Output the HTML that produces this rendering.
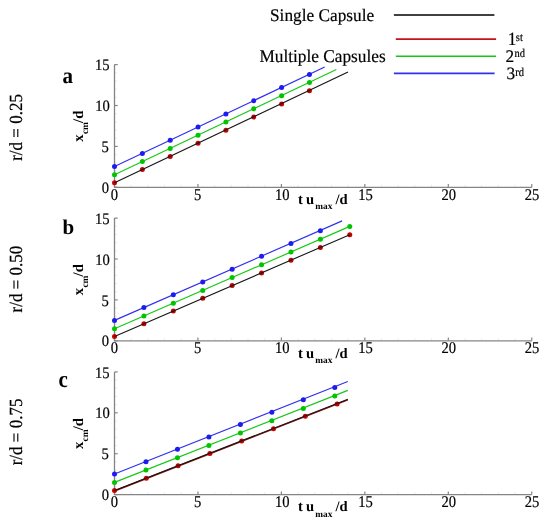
<!DOCTYPE html>
<html><head><meta charset="utf-8"><style>
html,body{margin:0;padding:0;background:#fff;width:550px;height:522px;overflow:hidden}
svg{display:block;font-family:"Liberation Serif",serif;text-rendering:geometricPrecision;will-change:transform;filter:blur(0.3px)}
</style></head><body>
<svg width="550" height="522" viewBox="0 0 550 522">
<rect width="550" height="522" fill="#fff"/>
<line x1="114.5" y1="179.12" x2="117.0" y2="179.12" stroke="#ebebeb" stroke-width="1"/>
<line x1="114.5" y1="170.94" x2="117.0" y2="170.94" stroke="#ebebeb" stroke-width="1"/>
<line x1="114.5" y1="162.76" x2="117.0" y2="162.76" stroke="#ebebeb" stroke-width="1"/>
<line x1="114.5" y1="154.58" x2="117.0" y2="154.58" stroke="#ebebeb" stroke-width="1"/>
<line x1="114.5" y1="138.22" x2="117.0" y2="138.22" stroke="#ebebeb" stroke-width="1"/>
<line x1="114.5" y1="130.04" x2="117.0" y2="130.04" stroke="#ebebeb" stroke-width="1"/>
<line x1="114.5" y1="121.86" x2="117.0" y2="121.86" stroke="#ebebeb" stroke-width="1"/>
<line x1="114.5" y1="113.68" x2="117.0" y2="113.68" stroke="#ebebeb" stroke-width="1"/>
<line x1="114.5" y1="97.32" x2="117.0" y2="97.32" stroke="#ebebeb" stroke-width="1"/>
<line x1="114.5" y1="89.14" x2="117.0" y2="89.14" stroke="#ebebeb" stroke-width="1"/>
<line x1="114.5" y1="80.96" x2="117.0" y2="80.96" stroke="#ebebeb" stroke-width="1"/>
<line x1="114.5" y1="72.78" x2="117.0" y2="72.78" stroke="#ebebeb" stroke-width="1"/>
<line x1="131.19" y1="187.3" x2="131.19" y2="184.8" stroke="#ebebeb" stroke-width="1"/>
<line x1="147.88" y1="187.3" x2="147.88" y2="184.8" stroke="#ebebeb" stroke-width="1"/>
<line x1="164.57" y1="187.3" x2="164.57" y2="184.8" stroke="#ebebeb" stroke-width="1"/>
<line x1="181.26" y1="187.3" x2="181.26" y2="184.8" stroke="#ebebeb" stroke-width="1"/>
<line x1="214.64" y1="187.3" x2="214.64" y2="184.8" stroke="#ebebeb" stroke-width="1"/>
<line x1="231.33" y1="187.3" x2="231.33" y2="184.8" stroke="#ebebeb" stroke-width="1"/>
<line x1="248.02" y1="187.3" x2="248.02" y2="184.8" stroke="#ebebeb" stroke-width="1"/>
<line x1="264.71" y1="187.3" x2="264.71" y2="184.8" stroke="#ebebeb" stroke-width="1"/>
<line x1="298.09" y1="187.3" x2="298.09" y2="184.8" stroke="#ebebeb" stroke-width="1"/>
<line x1="314.78" y1="187.3" x2="314.78" y2="184.8" stroke="#ebebeb" stroke-width="1"/>
<line x1="331.47" y1="187.3" x2="331.47" y2="184.8" stroke="#ebebeb" stroke-width="1"/>
<line x1="348.16" y1="187.3" x2="348.16" y2="184.8" stroke="#ebebeb" stroke-width="1"/>
<line x1="381.54" y1="187.3" x2="381.54" y2="184.8" stroke="#ebebeb" stroke-width="1"/>
<line x1="398.23" y1="187.3" x2="398.23" y2="184.8" stroke="#ebebeb" stroke-width="1"/>
<line x1="414.92" y1="187.3" x2="414.92" y2="184.8" stroke="#ebebeb" stroke-width="1"/>
<line x1="431.61" y1="187.3" x2="431.61" y2="184.8" stroke="#ebebeb" stroke-width="1"/>
<line x1="464.99" y1="187.3" x2="464.99" y2="184.8" stroke="#ebebeb" stroke-width="1"/>
<line x1="481.68" y1="187.3" x2="481.68" y2="184.8" stroke="#ebebeb" stroke-width="1"/>
<line x1="498.37" y1="187.3" x2="498.37" y2="184.8" stroke="#ebebeb" stroke-width="1"/>
<line x1="515.06" y1="187.3" x2="515.06" y2="184.8" stroke="#ebebeb" stroke-width="1"/>
<path d="M114.5 64.60V187.3H531.75" fill="none" stroke="#858585" stroke-width="1.3"/>
<line x1="114.5" y1="187.30" x2="117.7" y2="187.30" stroke="#858585" stroke-width="1.2"/>
<text transform="translate(109.00,192.90) scale(1,1.09)" font-size="14.6" stroke="#000" stroke-width="0.18" text-anchor="end">0</text>
<line x1="114.5" y1="146.40" x2="117.7" y2="146.40" stroke="#858585" stroke-width="1.2"/>
<text transform="translate(108.70,152.00) scale(1,1.09)" font-size="14.6" stroke="#000" stroke-width="0.18" text-anchor="end">5</text>
<line x1="114.5" y1="105.50" x2="117.7" y2="105.50" stroke="#858585" stroke-width="1.2"/>
<text transform="translate(109.90,111.10) scale(1,1.09)" font-size="14.6" stroke="#000" stroke-width="0.18" text-anchor="end">10</text>
<line x1="114.5" y1="64.60" x2="117.7" y2="64.60" stroke="#858585" stroke-width="1.2"/>
<text transform="translate(109.50,70.20) scale(1,1.09)" font-size="14.6" stroke="#000" stroke-width="0.18" text-anchor="end">15</text>
<line x1="114.50" y1="187.3" x2="114.50" y2="184.10000000000002" stroke="#858585" stroke-width="1.2"/>
<text transform="translate(114.50,199.60) scale(1,1.12)" font-size="14.6" stroke="#000" stroke-width="0.18" text-anchor="middle">0</text>
<line x1="197.95" y1="187.3" x2="197.95" y2="184.10000000000002" stroke="#858585" stroke-width="1.2"/>
<text transform="translate(197.75,199.60) scale(1,1.12)" font-size="14.6" stroke="#000" stroke-width="0.18" text-anchor="middle">5</text>
<line x1="281.40" y1="187.3" x2="281.40" y2="184.10000000000002" stroke="#858585" stroke-width="1.2"/>
<text transform="translate(282.20,199.60) scale(1,1.12)" font-size="14.6" stroke="#000" stroke-width="0.18" text-anchor="middle">10</text>
<line x1="364.85" y1="187.3" x2="364.85" y2="184.10000000000002" stroke="#858585" stroke-width="1.2"/>
<text transform="translate(365.45,199.60) scale(1,1.12)" font-size="14.6" stroke="#000" stroke-width="0.18" text-anchor="middle">15</text>
<line x1="448.30" y1="187.3" x2="448.30" y2="184.10000000000002" stroke="#858585" stroke-width="1.2"/>
<text transform="translate(448.70,199.60) scale(1,1.12)" font-size="14.6" stroke="#000" stroke-width="0.18" text-anchor="middle">20</text>
<line x1="531.75" y1="187.3" x2="531.75" y2="184.10000000000002" stroke="#858585" stroke-width="1.2"/>
<text transform="translate(531.95,199.60) scale(1,1.12)" font-size="14.6" stroke="#000" stroke-width="0.18" text-anchor="middle">25</text>
<text transform="translate(297.90,204.00)" font-size="14.6" font-weight="bold">t</text>
<text transform="translate(306.10,204.00)" font-size="14.6" font-weight="bold">u</text>
<text transform="translate(315.30,209.30)" font-size="9.3" font-weight="bold">max</text>
<text transform="translate(335.40,204.00)" font-size="14.6" font-weight="bold">/d</text>
<text transform="translate(83.00,141.80) rotate(-90)" font-size="14.6" font-weight="bold">x</text>
<text transform="translate(87.90,134.10) rotate(-90)" font-size="9.4" font-weight="bold">cm</text>
<text transform="translate(83.00,122.90) rotate(-90)" font-size="14.6" font-weight="bold">/d</text>
<text transform="translate(62.60,82.90) scale(1,1.07)" font-size="21" font-weight="bold">a</text>
<text transform="translate(22.00,160.80) rotate(-90) scale(1,1.09)" font-size="17.0" stroke="#000" stroke-width="0.18">r/d = 0.25</text>
<line x1="114.5" y1="332.62" x2="117.0" y2="332.62" stroke="#ebebeb" stroke-width="1"/>
<line x1="114.5" y1="324.44" x2="117.0" y2="324.44" stroke="#ebebeb" stroke-width="1"/>
<line x1="114.5" y1="316.26" x2="117.0" y2="316.26" stroke="#ebebeb" stroke-width="1"/>
<line x1="114.5" y1="308.08" x2="117.0" y2="308.08" stroke="#ebebeb" stroke-width="1"/>
<line x1="114.5" y1="291.72" x2="117.0" y2="291.72" stroke="#ebebeb" stroke-width="1"/>
<line x1="114.5" y1="283.54" x2="117.0" y2="283.54" stroke="#ebebeb" stroke-width="1"/>
<line x1="114.5" y1="275.36" x2="117.0" y2="275.36" stroke="#ebebeb" stroke-width="1"/>
<line x1="114.5" y1="267.18" x2="117.0" y2="267.18" stroke="#ebebeb" stroke-width="1"/>
<line x1="114.5" y1="250.82" x2="117.0" y2="250.82" stroke="#ebebeb" stroke-width="1"/>
<line x1="114.5" y1="242.64" x2="117.0" y2="242.64" stroke="#ebebeb" stroke-width="1"/>
<line x1="114.5" y1="234.46" x2="117.0" y2="234.46" stroke="#ebebeb" stroke-width="1"/>
<line x1="114.5" y1="226.28" x2="117.0" y2="226.28" stroke="#ebebeb" stroke-width="1"/>
<line x1="131.19" y1="340.8" x2="131.19" y2="338.3" stroke="#ebebeb" stroke-width="1"/>
<line x1="147.88" y1="340.8" x2="147.88" y2="338.3" stroke="#ebebeb" stroke-width="1"/>
<line x1="164.57" y1="340.8" x2="164.57" y2="338.3" stroke="#ebebeb" stroke-width="1"/>
<line x1="181.26" y1="340.8" x2="181.26" y2="338.3" stroke="#ebebeb" stroke-width="1"/>
<line x1="214.64" y1="340.8" x2="214.64" y2="338.3" stroke="#ebebeb" stroke-width="1"/>
<line x1="231.33" y1="340.8" x2="231.33" y2="338.3" stroke="#ebebeb" stroke-width="1"/>
<line x1="248.02" y1="340.8" x2="248.02" y2="338.3" stroke="#ebebeb" stroke-width="1"/>
<line x1="264.71" y1="340.8" x2="264.71" y2="338.3" stroke="#ebebeb" stroke-width="1"/>
<line x1="298.09" y1="340.8" x2="298.09" y2="338.3" stroke="#ebebeb" stroke-width="1"/>
<line x1="314.78" y1="340.8" x2="314.78" y2="338.3" stroke="#ebebeb" stroke-width="1"/>
<line x1="331.47" y1="340.8" x2="331.47" y2="338.3" stroke="#ebebeb" stroke-width="1"/>
<line x1="348.16" y1="340.8" x2="348.16" y2="338.3" stroke="#ebebeb" stroke-width="1"/>
<line x1="381.54" y1="340.8" x2="381.54" y2="338.3" stroke="#ebebeb" stroke-width="1"/>
<line x1="398.23" y1="340.8" x2="398.23" y2="338.3" stroke="#ebebeb" stroke-width="1"/>
<line x1="414.92" y1="340.8" x2="414.92" y2="338.3" stroke="#ebebeb" stroke-width="1"/>
<line x1="431.61" y1="340.8" x2="431.61" y2="338.3" stroke="#ebebeb" stroke-width="1"/>
<line x1="464.99" y1="340.8" x2="464.99" y2="338.3" stroke="#ebebeb" stroke-width="1"/>
<line x1="481.68" y1="340.8" x2="481.68" y2="338.3" stroke="#ebebeb" stroke-width="1"/>
<line x1="498.37" y1="340.8" x2="498.37" y2="338.3" stroke="#ebebeb" stroke-width="1"/>
<line x1="515.06" y1="340.8" x2="515.06" y2="338.3" stroke="#ebebeb" stroke-width="1"/>
<path d="M114.5 218.10V340.8H531.75" fill="none" stroke="#858585" stroke-width="1.3"/>
<line x1="114.5" y1="340.80" x2="117.7" y2="340.80" stroke="#858585" stroke-width="1.2"/>
<text transform="translate(109.00,346.40) scale(1,1.09)" font-size="14.6" stroke="#000" stroke-width="0.18" text-anchor="end">0</text>
<line x1="114.5" y1="299.90" x2="117.7" y2="299.90" stroke="#858585" stroke-width="1.2"/>
<text transform="translate(108.70,305.50) scale(1,1.09)" font-size="14.6" stroke="#000" stroke-width="0.18" text-anchor="end">5</text>
<line x1="114.5" y1="259.00" x2="117.7" y2="259.00" stroke="#858585" stroke-width="1.2"/>
<text transform="translate(109.90,264.60) scale(1,1.09)" font-size="14.6" stroke="#000" stroke-width="0.18" text-anchor="end">10</text>
<line x1="114.5" y1="218.10" x2="117.7" y2="218.10" stroke="#858585" stroke-width="1.2"/>
<text transform="translate(109.50,223.70) scale(1,1.09)" font-size="14.6" stroke="#000" stroke-width="0.18" text-anchor="end">15</text>
<line x1="114.50" y1="340.8" x2="114.50" y2="337.6" stroke="#858585" stroke-width="1.2"/>
<text transform="translate(114.50,353.10) scale(1,1.12)" font-size="14.6" stroke="#000" stroke-width="0.18" text-anchor="middle">0</text>
<line x1="197.95" y1="340.8" x2="197.95" y2="337.6" stroke="#858585" stroke-width="1.2"/>
<text transform="translate(197.75,353.10) scale(1,1.12)" font-size="14.6" stroke="#000" stroke-width="0.18" text-anchor="middle">5</text>
<line x1="281.40" y1="340.8" x2="281.40" y2="337.6" stroke="#858585" stroke-width="1.2"/>
<text transform="translate(282.20,353.10) scale(1,1.12)" font-size="14.6" stroke="#000" stroke-width="0.18" text-anchor="middle">10</text>
<line x1="364.85" y1="340.8" x2="364.85" y2="337.6" stroke="#858585" stroke-width="1.2"/>
<text transform="translate(365.45,353.10) scale(1,1.12)" font-size="14.6" stroke="#000" stroke-width="0.18" text-anchor="middle">15</text>
<line x1="448.30" y1="340.8" x2="448.30" y2="337.6" stroke="#858585" stroke-width="1.2"/>
<text transform="translate(448.70,353.10) scale(1,1.12)" font-size="14.6" stroke="#000" stroke-width="0.18" text-anchor="middle">20</text>
<line x1="531.75" y1="340.8" x2="531.75" y2="337.6" stroke="#858585" stroke-width="1.2"/>
<text transform="translate(531.95,353.10) scale(1,1.12)" font-size="14.6" stroke="#000" stroke-width="0.18" text-anchor="middle">25</text>
<text transform="translate(297.90,357.50)" font-size="14.6" font-weight="bold">t</text>
<text transform="translate(306.10,357.50)" font-size="14.6" font-weight="bold">u</text>
<text transform="translate(315.30,362.80)" font-size="9.3" font-weight="bold">max</text>
<text transform="translate(335.40,357.50)" font-size="14.6" font-weight="bold">/d</text>
<text transform="translate(83.00,295.30) rotate(-90)" font-size="14.6" font-weight="bold">x</text>
<text transform="translate(87.90,287.60) rotate(-90)" font-size="9.4" font-weight="bold">cm</text>
<text transform="translate(83.00,276.40) rotate(-90)" font-size="14.6" font-weight="bold">/d</text>
<text transform="translate(62.40,234.10)" font-size="21" font-weight="bold">b</text>
<text transform="translate(22.00,312.40) rotate(-90) scale(1,1.09)" font-size="17.0" stroke="#000" stroke-width="0.18">r/d = 0.50</text>
<line x1="114.5" y1="486.42" x2="117.0" y2="486.42" stroke="#ebebeb" stroke-width="1"/>
<line x1="114.5" y1="478.24" x2="117.0" y2="478.24" stroke="#ebebeb" stroke-width="1"/>
<line x1="114.5" y1="470.06" x2="117.0" y2="470.06" stroke="#ebebeb" stroke-width="1"/>
<line x1="114.5" y1="461.88" x2="117.0" y2="461.88" stroke="#ebebeb" stroke-width="1"/>
<line x1="114.5" y1="445.52" x2="117.0" y2="445.52" stroke="#ebebeb" stroke-width="1"/>
<line x1="114.5" y1="437.34" x2="117.0" y2="437.34" stroke="#ebebeb" stroke-width="1"/>
<line x1="114.5" y1="429.16" x2="117.0" y2="429.16" stroke="#ebebeb" stroke-width="1"/>
<line x1="114.5" y1="420.98" x2="117.0" y2="420.98" stroke="#ebebeb" stroke-width="1"/>
<line x1="114.5" y1="404.62" x2="117.0" y2="404.62" stroke="#ebebeb" stroke-width="1"/>
<line x1="114.5" y1="396.44" x2="117.0" y2="396.44" stroke="#ebebeb" stroke-width="1"/>
<line x1="114.5" y1="388.26" x2="117.0" y2="388.26" stroke="#ebebeb" stroke-width="1"/>
<line x1="114.5" y1="380.08" x2="117.0" y2="380.08" stroke="#ebebeb" stroke-width="1"/>
<line x1="131.19" y1="494.6" x2="131.19" y2="492.1" stroke="#ebebeb" stroke-width="1"/>
<line x1="147.88" y1="494.6" x2="147.88" y2="492.1" stroke="#ebebeb" stroke-width="1"/>
<line x1="164.57" y1="494.6" x2="164.57" y2="492.1" stroke="#ebebeb" stroke-width="1"/>
<line x1="181.26" y1="494.6" x2="181.26" y2="492.1" stroke="#ebebeb" stroke-width="1"/>
<line x1="214.64" y1="494.6" x2="214.64" y2="492.1" stroke="#ebebeb" stroke-width="1"/>
<line x1="231.33" y1="494.6" x2="231.33" y2="492.1" stroke="#ebebeb" stroke-width="1"/>
<line x1="248.02" y1="494.6" x2="248.02" y2="492.1" stroke="#ebebeb" stroke-width="1"/>
<line x1="264.71" y1="494.6" x2="264.71" y2="492.1" stroke="#ebebeb" stroke-width="1"/>
<line x1="298.09" y1="494.6" x2="298.09" y2="492.1" stroke="#ebebeb" stroke-width="1"/>
<line x1="314.78" y1="494.6" x2="314.78" y2="492.1" stroke="#ebebeb" stroke-width="1"/>
<line x1="331.47" y1="494.6" x2="331.47" y2="492.1" stroke="#ebebeb" stroke-width="1"/>
<line x1="348.16" y1="494.6" x2="348.16" y2="492.1" stroke="#ebebeb" stroke-width="1"/>
<line x1="381.54" y1="494.6" x2="381.54" y2="492.1" stroke="#ebebeb" stroke-width="1"/>
<line x1="398.23" y1="494.6" x2="398.23" y2="492.1" stroke="#ebebeb" stroke-width="1"/>
<line x1="414.92" y1="494.6" x2="414.92" y2="492.1" stroke="#ebebeb" stroke-width="1"/>
<line x1="431.61" y1="494.6" x2="431.61" y2="492.1" stroke="#ebebeb" stroke-width="1"/>
<line x1="464.99" y1="494.6" x2="464.99" y2="492.1" stroke="#ebebeb" stroke-width="1"/>
<line x1="481.68" y1="494.6" x2="481.68" y2="492.1" stroke="#ebebeb" stroke-width="1"/>
<line x1="498.37" y1="494.6" x2="498.37" y2="492.1" stroke="#ebebeb" stroke-width="1"/>
<line x1="515.06" y1="494.6" x2="515.06" y2="492.1" stroke="#ebebeb" stroke-width="1"/>
<path d="M114.5 371.90V494.6H531.75" fill="none" stroke="#858585" stroke-width="1.3"/>
<line x1="114.5" y1="494.60" x2="117.7" y2="494.60" stroke="#858585" stroke-width="1.2"/>
<text transform="translate(109.00,500.20) scale(1,1.09)" font-size="14.6" stroke="#000" stroke-width="0.18" text-anchor="end">0</text>
<line x1="114.5" y1="453.70" x2="117.7" y2="453.70" stroke="#858585" stroke-width="1.2"/>
<text transform="translate(108.70,459.30) scale(1,1.09)" font-size="14.6" stroke="#000" stroke-width="0.18" text-anchor="end">5</text>
<line x1="114.5" y1="412.80" x2="117.7" y2="412.80" stroke="#858585" stroke-width="1.2"/>
<text transform="translate(109.90,418.40) scale(1,1.09)" font-size="14.6" stroke="#000" stroke-width="0.18" text-anchor="end">10</text>
<line x1="114.5" y1="371.90" x2="117.7" y2="371.90" stroke="#858585" stroke-width="1.2"/>
<text transform="translate(109.50,377.50) scale(1,1.09)" font-size="14.6" stroke="#000" stroke-width="0.18" text-anchor="end">15</text>
<line x1="114.50" y1="494.6" x2="114.50" y2="491.40000000000003" stroke="#858585" stroke-width="1.2"/>
<text transform="translate(114.50,506.90) scale(1,1.12)" font-size="14.6" stroke="#000" stroke-width="0.18" text-anchor="middle">0</text>
<line x1="197.95" y1="494.6" x2="197.95" y2="491.40000000000003" stroke="#858585" stroke-width="1.2"/>
<text transform="translate(197.75,506.90) scale(1,1.12)" font-size="14.6" stroke="#000" stroke-width="0.18" text-anchor="middle">5</text>
<line x1="281.40" y1="494.6" x2="281.40" y2="491.40000000000003" stroke="#858585" stroke-width="1.2"/>
<text transform="translate(282.20,506.90) scale(1,1.12)" font-size="14.6" stroke="#000" stroke-width="0.18" text-anchor="middle">10</text>
<line x1="364.85" y1="494.6" x2="364.85" y2="491.40000000000003" stroke="#858585" stroke-width="1.2"/>
<text transform="translate(365.45,506.90) scale(1,1.12)" font-size="14.6" stroke="#000" stroke-width="0.18" text-anchor="middle">15</text>
<line x1="448.30" y1="494.6" x2="448.30" y2="491.40000000000003" stroke="#858585" stroke-width="1.2"/>
<text transform="translate(448.70,506.90) scale(1,1.12)" font-size="14.6" stroke="#000" stroke-width="0.18" text-anchor="middle">20</text>
<line x1="531.75" y1="494.6" x2="531.75" y2="491.40000000000003" stroke="#858585" stroke-width="1.2"/>
<text transform="translate(531.95,506.90) scale(1,1.12)" font-size="14.6" stroke="#000" stroke-width="0.18" text-anchor="middle">25</text>
<text transform="translate(297.90,511.30)" font-size="14.6" font-weight="bold">t</text>
<text transform="translate(306.10,511.30)" font-size="14.6" font-weight="bold">u</text>
<text transform="translate(315.30,516.60)" font-size="9.3" font-weight="bold">max</text>
<text transform="translate(335.40,511.30)" font-size="14.6" font-weight="bold">/d</text>
<text transform="translate(83.00,449.10) rotate(-90)" font-size="14.6" font-weight="bold">x</text>
<text transform="translate(87.90,441.40) rotate(-90)" font-size="9.4" font-weight="bold">cm</text>
<text transform="translate(83.00,430.20) rotate(-90)" font-size="14.6" font-weight="bold">/d</text>
<text transform="translate(58.40,386.60) scale(1,1.12)" font-size="21" font-weight="bold">c</text>
<text transform="translate(22.00,465.30) rotate(-90) scale(1,1.09)" font-size="17.0" stroke="#000" stroke-width="0.18">r/d = 0.75</text>
<polyline points="114.50,174.80 336.40,69.60" fill="none" stroke="#14c814" stroke-width="1.15"/>
<polyline points="114.50,166.60 324.70,67.00" fill="none" stroke="#3030ee" stroke-width="1.15"/>
<circle cx="114.50" cy="182.70" r="2.5" fill="#c80000"/><circle cx="142.35" cy="169.57" r="2.5" fill="#c80000"/><circle cx="170.20" cy="156.44" r="2.5" fill="#c80000"/><circle cx="198.05" cy="143.31" r="2.5" fill="#c80000"/><circle cx="225.90" cy="130.18" r="2.5" fill="#c80000"/><circle cx="253.75" cy="117.05" r="2.5" fill="#c80000"/><circle cx="281.60" cy="103.92" r="2.5" fill="#c80000"/><circle cx="309.45" cy="90.79" r="2.5" fill="#c80000"/>
<circle cx="114.50" cy="174.80" r="2.5" fill="#00c400"/><circle cx="142.35" cy="161.61" r="2.5" fill="#00c400"/><circle cx="170.20" cy="148.42" r="2.5" fill="#00c400"/><circle cx="198.05" cy="135.23" r="2.5" fill="#00c400"/><circle cx="225.90" cy="122.04" r="2.5" fill="#00c400"/><circle cx="253.75" cy="108.85" r="2.5" fill="#00c400"/><circle cx="281.60" cy="95.66" r="2.5" fill="#00c400"/><circle cx="309.45" cy="82.47" r="2.5" fill="#00c400"/>
<circle cx="114.50" cy="166.60" r="2.5" fill="#1c1cf0"/><circle cx="142.35" cy="153.43" r="2.5" fill="#1c1cf0"/><circle cx="170.20" cy="140.26" r="2.5" fill="#1c1cf0"/><circle cx="198.05" cy="127.09" r="2.5" fill="#1c1cf0"/><circle cx="225.90" cy="113.92" r="2.5" fill="#1c1cf0"/><circle cx="253.75" cy="100.75" r="2.5" fill="#1c1cf0"/><circle cx="281.60" cy="87.58" r="2.5" fill="#1c1cf0"/><circle cx="309.45" cy="74.41" r="2.5" fill="#1c1cf0"/>
<polyline points="114.50,182.70 348.00,72.00" fill="none" stroke="#151515" stroke-width="1.1"/>
<polyline points="114.50,328.80 349.78,226.40" fill="none" stroke="#14c814" stroke-width="1.15"/>
<polyline points="114.50,320.40 342.10,220.90" fill="none" stroke="#3030ee" stroke-width="1.15"/>
<circle cx="114.50" cy="336.50" r="2.5" fill="#c80000"/><circle cx="143.91" cy="323.77" r="2.5" fill="#c80000"/><circle cx="173.32" cy="311.05" r="2.5" fill="#c80000"/><circle cx="202.73" cy="298.32" r="2.5" fill="#c80000"/><circle cx="232.14" cy="285.60" r="2.5" fill="#c80000"/><circle cx="261.55" cy="272.88" r="2.5" fill="#c80000"/><circle cx="290.96" cy="260.15" r="2.5" fill="#c80000"/><circle cx="320.37" cy="247.43" r="2.5" fill="#c80000"/><circle cx="349.78" cy="234.70" r="2.5" fill="#c80000"/>
<circle cx="114.50" cy="328.80" r="2.5" fill="#00c400"/><circle cx="143.91" cy="316.00" r="2.5" fill="#00c400"/><circle cx="173.32" cy="303.20" r="2.5" fill="#00c400"/><circle cx="202.73" cy="290.40" r="2.5" fill="#00c400"/><circle cx="232.14" cy="277.60" r="2.5" fill="#00c400"/><circle cx="261.55" cy="264.80" r="2.5" fill="#00c400"/><circle cx="290.96" cy="252.00" r="2.5" fill="#00c400"/><circle cx="320.37" cy="239.20" r="2.5" fill="#00c400"/><circle cx="349.78" cy="226.40" r="2.5" fill="#00c400"/>
<circle cx="114.50" cy="320.40" r="2.5" fill="#1c1cf0"/><circle cx="143.91" cy="307.59" r="2.5" fill="#1c1cf0"/><circle cx="173.32" cy="294.78" r="2.5" fill="#1c1cf0"/><circle cx="202.73" cy="281.97" r="2.5" fill="#1c1cf0"/><circle cx="232.14" cy="269.16" r="2.5" fill="#1c1cf0"/><circle cx="261.55" cy="256.35" r="2.5" fill="#1c1cf0"/><circle cx="290.96" cy="243.54" r="2.5" fill="#1c1cf0"/><circle cx="320.37" cy="230.73" r="2.5" fill="#1c1cf0"/>
<polyline points="114.50,336.50 349.78,234.70" fill="none" stroke="#151515" stroke-width="1.1"/>
<polyline points="114.50,491.00 347.80,399.90" fill="none" stroke="#8a1010" stroke-width="1.5"/>
<polyline points="114.50,482.40 347.80,390.40" fill="none" stroke="#14c814" stroke-width="1.15"/>
<polyline points="114.50,474.00 347.80,381.50" fill="none" stroke="#3030ee" stroke-width="1.15"/>
<circle cx="114.50" cy="490.50" r="2.5" fill="#c80000"/><circle cx="146.30" cy="478.14" r="2.5" fill="#c80000"/><circle cx="178.10" cy="465.78" r="2.5" fill="#c80000"/><circle cx="209.90" cy="453.42" r="2.5" fill="#c80000"/><circle cx="241.70" cy="441.06" r="2.5" fill="#c80000"/><circle cx="273.50" cy="428.70" r="2.5" fill="#c80000"/><circle cx="305.30" cy="416.34" r="2.5" fill="#c80000"/><circle cx="337.10" cy="403.98" r="2.5" fill="#c80000"/>
<circle cx="114.50" cy="482.40" r="2.5" fill="#00c400"/><circle cx="145.97" cy="470.07" r="2.5" fill="#00c400"/><circle cx="177.44" cy="457.74" r="2.5" fill="#00c400"/><circle cx="208.91" cy="445.41" r="2.5" fill="#00c400"/><circle cx="240.38" cy="433.08" r="2.5" fill="#00c400"/><circle cx="271.85" cy="420.75" r="2.5" fill="#00c400"/><circle cx="303.32" cy="408.42" r="2.5" fill="#00c400"/><circle cx="334.79" cy="396.09" r="2.5" fill="#00c400"/>
<circle cx="114.50" cy="474.00" r="2.5" fill="#1c1cf0"/><circle cx="145.97" cy="461.63" r="2.5" fill="#1c1cf0"/><circle cx="177.44" cy="449.26" r="2.5" fill="#1c1cf0"/><circle cx="208.91" cy="436.89" r="2.5" fill="#1c1cf0"/><circle cx="240.38" cy="424.52" r="2.5" fill="#1c1cf0"/><circle cx="271.85" cy="412.15" r="2.5" fill="#1c1cf0"/><circle cx="303.32" cy="399.78" r="2.5" fill="#1c1cf0"/><circle cx="334.79" cy="387.41" r="2.5" fill="#1c1cf0"/>
<polyline points="114.50,490.50 347.80,399.30" fill="none" stroke="#151515" stroke-width="1.1"/>
<text transform="translate(270.00,20.70) scale(1,1.02)" font-size="17.3" stroke="#000" stroke-width="0.18">Single Capsule</text>
<text transform="translate(259.40,61.90) scale(1,1.04)" font-size="17.3" stroke="#000" stroke-width="0.18">Multiple Capsules</text>
<line x1="393.9" y1="15.0" x2="494.4" y2="15.0" stroke="#000" stroke-width="1.6"/>
<line x1="395.8" y1="39.1" x2="496.1" y2="39.1" stroke="#c81212" stroke-width="1.6"/>
<line x1="395.8" y1="56.3" x2="496.1" y2="56.3" stroke="#14c814" stroke-width="1.6"/>
<line x1="393.9" y1="73.4" x2="494.6" y2="73.4" stroke="#3030ee" stroke-width="1.6"/>
<text transform="translate(507.80,44.90) scale(1,1.08)" font-size="17.3" stroke="#000" stroke-width="0.18">1</text>
<text transform="translate(515.80,40.60) scale(1,1.12)" font-size="10.5" stroke="#000" stroke-width="0.18">st</text>
<text transform="translate(505.50,61.70) scale(1,1.02)" font-size="17.3" stroke="#000" stroke-width="0.18">2</text>
<text transform="translate(514.50,57.40) scale(1,1.12)" font-size="10.5" stroke="#000" stroke-width="0.18">nd</text>
<text transform="translate(506.60,79.30)" font-size="17.3" stroke="#000" stroke-width="0.18">3</text>
<text transform="translate(515.30,75.90) scale(1,1.15)" font-size="10.5" stroke="#000" stroke-width="0.18">rd</text>
</svg></body></html>
